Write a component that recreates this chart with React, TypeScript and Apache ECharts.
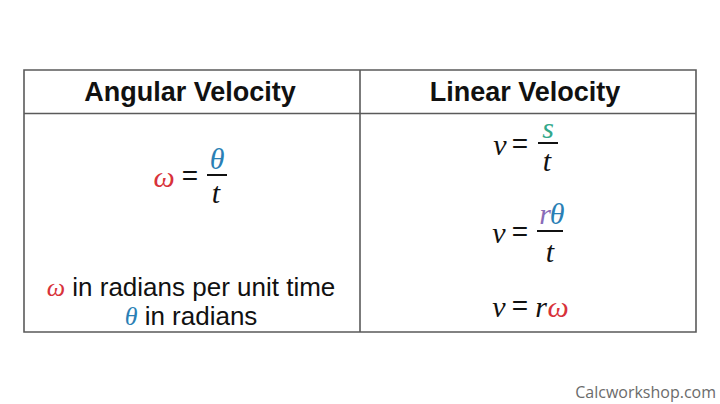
import React, { useEffect, useRef } from "react";
import * as echarts from "echarts";

const headers = ["Angular Velocity", "Linear Velocity"];
const leftNotes = [
  { sym: "ω", text: " in radians per unit time" },
  { sym: "θ", text: " in radians" },
];
const watermark = "Calcworkshop.com";

const RED = "#d8323a";
const BLUE = "#2a7fb5";
const TEAL = "#33a88a";
const PURPLE = "#8a6cb8";
const INK = "#111";

const MATH = "'Liberation Serif', serif";
const SANS = "'Liberation Sans', Arial, sans-serif";

function glyph(x: number, y: number, text: string, fill: string, size = 30, italic = true) {
  return {
    type: "text",
    x,
    y,
    style: {
      text,
      fill,
      font: `${italic ? "italic " : ""}${size}px ${italic ? MATH : SANS}`,
      align: "center",
      verticalAlign: "middle",
    },
  };
}
function eq(x: number, y: number) {
  return glyph(x, y, "=", INK, 28, false);
}
function bar(x1: number, x2: number, y: number) {
  return { type: "line", shape: { x1, y1: y, x2, y2: y }, style: { stroke: INK, lineWidth: 2 } };
}

export default function App() {
  const ref = useRef<HTMLDivElement>(null);
  useEffect(() => {
    const chart = echarts.init(ref.current!, undefined, { renderer: "svg" });
    const L = 24, R = 696, T = 70, B = 332, H = 113.5, M = 360;
    const border = "#5a5a5a";
    const elements: any[] = [
      { type: "rect", shape: { x: L, y: T, width: R - L, height: B - T }, style: { fill: "none", stroke: border, lineWidth: 1.6 } },
      { type: "line", shape: { x1: L, y1: H, x2: R, y2: H }, style: { stroke: border, lineWidth: 1.6 } },
      { type: "line", shape: { x1: M, y1: T, x2: M, y2: B }, style: { stroke: border, lineWidth: 1.6 } },
      {
        type: "text", x: 190, y: 92,
        style: { text: headers[0], fill: INK, font: `bold 27px ${SANS}`, align: "center", verticalAlign: "middle" },
      },
      {
        type: "text", x: 525, y: 92,
        style: { text: headers[1], fill: INK, font: `bold 27px ${SANS}`, align: "center", verticalAlign: "middle" },
      },
      // omega = theta / t
      glyph(164, 176, "ω", RED),
      eq(190, 175),
      bar(207, 227, 175),
      glyph(217, 158, "θ", BLUE),
      glyph(216, 192, "t", INK),
      // v = s / t
      glyph(500, 144, "v", INK),
      eq(520, 143),
      bar(538, 558, 143),
      glyph(548, 127, "s", TEAL),
      glyph(547, 160, "t", INK),
      // v = r theta / t
      glyph(499, 232, "v", INK),
      eq(520, 231),
      bar(537, 563, 231),
      glyph(545, 213, "r", PURPLE),
      glyph(557, 213, "θ", BLUE),
      glyph(550, 251, "t", INK),
      // v = r omega
      glyph(499, 306, "v", INK),
      eq(520, 305),
      glyph(541, 306, "r", INK),
      glyph(558, 306, "ω", RED),
      // notes
      ...leftNotes.map((n, i) => ({
        type: "text",
        x: 191,
        y: 287 + i * 29,
        style: {
          text: `{s|${n.sym}}{t|${n.text}}`,
          align: "center",
          verticalAlign: "middle",
          rich: {
            s: { fill: i === 0 ? RED : BLUE, font: `italic 26px ${MATH}` },
            t: { fill: INK, font: `26px ${SANS}` },
          },
        },
      })),
      {
        type: "text", x: 716, y: 392,
        style: { text: watermark, fill: "#6b6b6b", font: `16px 'Open Sans', sans-serif`, align: "right", verticalAlign: "middle" },
      },
    ];
    chart.setOption({
      animation: false,
      backgroundColor: "#ffffff",
      graphic: { elements },
    });
    return () => chart.dispose();
  }, []);
  return <div ref={ref} style={{ position: "fixed", left: 0, top: 0, width: 720, height: 404 }} />;
}
